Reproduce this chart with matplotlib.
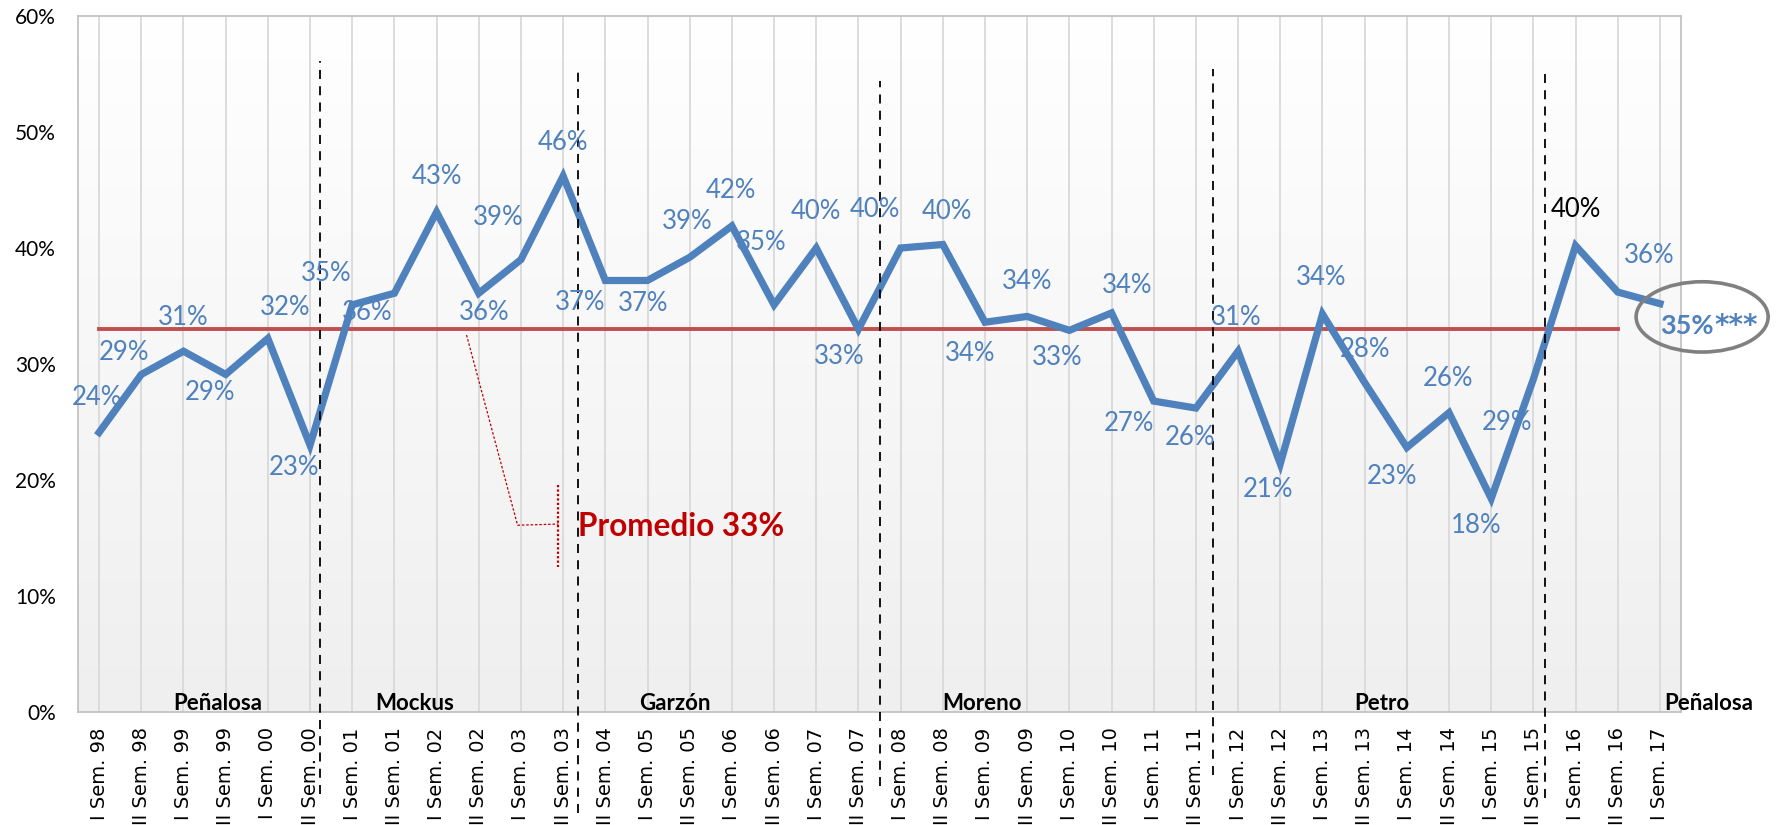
import numpy as np
import matplotlib.pyplot as plt
from matplotlib.colors import LinearSegmentedColormap
from matplotlib.patches import Ellipse

# semesters (x axis) and values in percent
semestres = ["I Sem. 98", "II Sem. 98", "I Sem. 99", "II Sem. 99", "I Sem. 00", "II Sem. 00",
             "I Sem. 01", "II Sem. 01", "I Sem. 02", "II Sem. 02", "I Sem. 03", "II Sem. 03",
             "II Sem. 04", "I Sem. 05", "II Sem. 05", "I Sem. 06", "II Sem. 06", "I Sem. 07",
             "II Sem. 07", "I Sem. 08", "II Sem. 08", "I Sem. 09", "II Sem. 09", "I Sem. 10",
             "II Sem. 10", "I Sem. 11", "II Sem. 11", "I Sem. 12", "II Sem. 12", "I Sem. 13",
             "II Sem. 13", "I Sem. 14", "II Sem. 14", "I Sem. 15", "II Sem. 15", "I Sem. 16",
             "II Sem. 16", "I Sem. 17"]
valores = [24.1, 29.1, 31.1, 29.1, 32.2, 23.0, 35.1, 36.1, 43.1, 36.1, 39.0, 46.2,
           37.2, 37.2, 39.2, 41.9, 35.1, 40.0, 33.0, 40.0, 40.3, 33.6, 34.1, 32.9,
           34.4, 26.8, 26.2, 31.1, 21.4, 34.3, 28.4, 22.8, 25.8, 18.4, 28.7, 40.2,
           36.2, 35.2]
promedio = 33
alcaldes = ["Peñalosa", "Mockus", "Garzón", "Moreno", "Petro", "Peñalosa"]

# layout bits (not data)
alcalde_x = [2.82, 7.47, 13.66, 20.92, 30.41, 38.15]
# dashed separators: x, top, bottom (data units)
divisiones = [(5.24, 56.1, -7.1), (11.35, 55.4, -8.7), (18.5, 54.4, -6.4),
              (26.4, 55.4, -5.4), (34.28, 55.4, -7.4)]
# label offsets in points
offs = [(-1.6, 25.3), (-12.2, 15.5), (0, 24.5), (-11.4, -13.1), (12.2, 22), (-11.4, -16.3),
        (-18.8, 22.5), (-19.6, -13.9), (0, 25.3), (4.1, -13.9), (-16.3, 30.2), (0, 24.5),
        (-18, -15.5), (-3.3, -16.3), (-1.6, 26.1), (-0.8, 25.3), (-9, 44.9), (0, 26.1),
        (-13.9, -19.6), (-18.8, 27.7), (3.3, 23.7), (-10.6, -22.8), (0, 25.5), (-9, -19.6),
        (11, 19.5), (-18, -16.3), (-4.1, -21.2), (-1.6, 24.5), (-9, -18.8), (-0.8, 26.1),
        (0, 23.7), (-10.6, -21.2), (-0.8, 24.5), (-10.6, -19.6), (-18.8, -31), (0, 26.1),
        (22.8, 26.5), (19.5, -16)]

azul = "#4F81BD"
rojo = "#C0504D"
fuente = "Lato"

x = np.arange(len(valores))

fig = plt.figure(figsize=(17.77, 8.25), dpi=100)
ax = fig.add_axes([0.0439, 0.137, 0.9021, 0.8436])

# gradient background
cmap = LinearSegmentedColormap.from_list("g", ["#FFFFFF", "#EFEFEF"])
ax.imshow(np.linspace(0, 1, 256).reshape(-1, 1), extent=[-0.5, len(x) - 0.5, 0, 60],
          aspect="auto", cmap=cmap, origin="upper", zorder=0)

ax.set_xlim(-0.5, len(x) - 0.5)
ax.set_ylim(0, 60)

ax.set_xticks(x)
ax.set_xticklabels(semestres, rotation=90, fontsize=14, family="DejaVu Sans")
ax.set_yticks(range(0, 61, 10))
ax.set_yticklabels([f"{v}%" for v in range(0, 61, 10)], fontsize=15, family=fuente)
ax.tick_params(axis="x", length=0, pad=11)
ax.tick_params(axis="y", length=0, pad=16)
ax.grid(axis="x", color="#D9D9D9", lw=1.3, zorder=1)
ax.set_axisbelow(True)
for s in ax.spines.values():
    s.set_color("#BFBFBF")
    s.set_linewidth(1.2)

ax.plot(x[:-1], [promedio] * (len(x) - 1), color=rojo, lw=2.8, zorder=3)
ax.plot(x, valores, color=azul, lw=5.2, zorder=4, solid_joinstyle="miter")

for xd, top, bot in divisiones:
    ax.plot([xd, xd], [bot, top], color="black", lw=1.3, ls=(0, (5, 4)),
            clip_on=False, zorder=5)

for i, v in enumerate(valores):
    txt = f"{round(v)}%"
    col = azul
    weight = "normal"
    size = 18.5
    if i == 35:
        col = "black"
    if i == len(valores) - 1:
        weight = "bold"
        size = 19.5
    ax.annotate(txt, (x[i], v), xytext=offs[i], textcoords="offset points",
                ha="center", va="center", fontsize=size, color=col,
                fontweight=weight, family=fuente, annotation_clip=False, zorder=6)

# asterisks after the last value
ax.annotate("***", (x[-1], valores[-1]), xytext=(39, -16), textcoords="offset points",
            ha="left", va="center", fontsize=20, color=azul, fontweight="bold",
            family="DejaVu Sans", annotation_clip=False, zorder=6)

for nombre, xp in zip(alcaldes, alcalde_x):
    ax.text(xp, 0.2, nombre, ha="center", va="baseline", fontsize=16,
            fontweight="bold", family=fuente, clip_on=False, zorder=6)

# callout for the average
cx = [8.71, 9.92, 10.89]
cy = [32.5, 16.1, 16.2]
ax.plot(cx, cy, color="#C00000", lw=0.9, ls=(0, (2, 1.5)), zorder=5)
ax.plot([10.89, 10.89], [19.6, 12.5], color="#C00000", lw=1.6, ls=(0, (1, 1)), zorder=5)
ax.text(11.35, 16.0, f"Promedio {promedio}%", color="#C00000", fontsize=22.7,
        fontweight="bold", family=fuente, va="center", ha="left", zorder=6)

ax.add_patch(Ellipse((38.0, 34.06), 3.13, 6.06, fill=False, edgecolor="#808080",
                     lw=2.6, clip_on=False, zorder=7))

fig.savefig("out.png", dpi=100)
